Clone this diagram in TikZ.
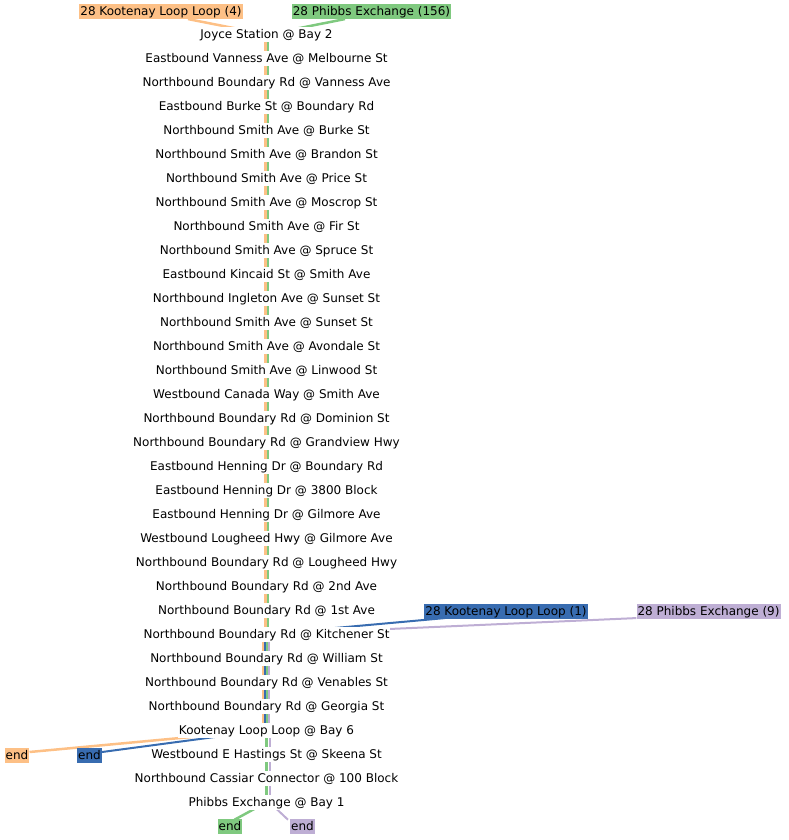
\documentclass[tikz,border=0pt]{standalone}
\usepackage{fontspec}
\setmainfont{DejaVu Sans}
\pgfdeclarelayer{bg}
\pgfsetlayers{bg,main}
\definecolor{corange}{HTML}{FDC086}
\definecolor{cgreen}{HTML}{7FC97F}
\definecolor{cblue}{HTML}{386CB0}
\definecolor{cpurple}{HTML}{BEAED4}
\begin{document}
\begin{tikzpicture}[x=1pt,y=-1pt,
  stop/.style={fill=white,inner xsep=0.5pt,inner ysep=3.2pt,text height=8.75pt,text depth=0pt,font=\fontsize{12}{14}\selectfont},
  lab/.style={inner xsep=1pt,inner ysep=3.2pt,text height=8.75pt,text depth=0pt,font=\fontsize{12}{14}\selectfont},
  ro/.style={draw=corange,line width=2.5pt},
  rg/.style={draw=cgreen,line width=2.5pt},
  rb/.style={draw=cblue,line width=2pt},
  rp/.style={draw=cpurple,line width=2pt}]
\useasboundingbox (0,0) rectangle (788,840);
\foreach \t [count=\i from 0] in {
Joyce Station @ Bay 2,
Eastbound Vanness Ave @ Melbourne St,
Northbound Boundary Rd @ Vanness Ave,
Eastbound Burke St @ Boundary Rd,
Northbound Smith Ave @ Burke St,
Northbound Smith Ave @ Brandon St,
Northbound Smith Ave @ Price St,
Northbound Smith Ave @ Moscrop St,
Northbound Smith Ave @ Fir St,
Northbound Smith Ave @ Spruce St,
Eastbound Kincaid St @ Smith Ave,
Northbound Ingleton Ave @ Sunset St,
Northbound Smith Ave @ Sunset St,
Northbound Smith Ave @ Avondale St,
Northbound Smith Ave @ Linwood St,
Westbound Canada Way @ Smith Ave,
Northbound Boundary Rd @ Dominion St,
Northbound Boundary Rd @ Grandview Hwy,
Eastbound Henning Dr @ Boundary Rd,
Eastbound Henning Dr @ 3800 Block,
Eastbound Henning Dr @ Gilmore Ave,
Westbound Lougheed Hwy @ Gilmore Ave,
Northbound Boundary Rd @ Lougheed Hwy,
Northbound Boundary Rd @ 2nd Ave,
Northbound Boundary Rd @ 1st Ave,
Northbound Boundary Rd @ Kitchener St,
Northbound Boundary Rd @ William St,
Northbound Boundary Rd @ Venables St,
Northbound Boundary Rd @ Georgia St,
Kootenay Loop Loop @ Bay 6,
Westbound E Hastings St @ Skeena St,
Northbound Cassiar Connector @ 100 Block,
Phibbs Exchange @ Bay 1}
  \node[stop] (s\i) at (266.5,{34.3+24*\i}) {\t};

% labels
\node[lab,fill=corange] (lo) at (161,11.3) {28 Kootenay Loop Loop (4)};
\node[lab,fill=cgreen] (lg) at (371.5,11.3) {28 Phibbs Exchange (156)};
\node[lab,fill=cblue] (lb) at (506,611.3) {28 Kootenay Loop Loop (1)};
\node[lab,fill=cpurple] (lp) at (708.5,611.3) {28 Phibbs Exchange (9)};
\node[lab,fill=corange] (eo) at (17,755.5) {end};
\node[lab,fill=cblue] (eb) at (89.5,755.5) {end};
\node[lab,fill=cgreen] (eg) at (230,826.5) {end};
\node[lab,fill=cpurple] (ep) at (302.5,826.5) {end};

\begin{pgfonlayer}{bg}
% top section: orange + green
\foreach \i [evaluate=\i as \j using int(\i+1)] in {0,...,24} {
  \draw[ro] ([xshift=-1pt]s\i.center) -- ([xshift=-1pt]s\j.center);
  \draw[rg] ([xshift=1.5pt]s\i.center) -- ([xshift=1.5pt]s\j.center);
}
% Kitchener to Kootenay Loop: four routes
\foreach \i [evaluate=\i as \j using int(\i+1)] in {25,...,28} {
  \draw[ro,line width=2pt] ([xshift=-3.5pt]s\i.center) -- ([xshift=-3.5pt]s\j.center);
  \draw[rb] ([xshift=-1.5pt]s\i.center) -- ([xshift=-1.5pt]s\j.center);
  \draw[rg,line width=2pt] ([xshift=0.5pt]s\i.center) -- ([xshift=0.5pt]s\j.center);
  \draw[rp] ([xshift=2.5pt]s\i.center) -- ([xshift=2.5pt]s\j.center);
}
% Kootenay Loop to Phibbs: green + purple
\foreach \i [evaluate=\i as \j using int(\i+1)] in {29,...,31} {
  \draw[rg] ([xshift=0pt]s\i.center) -- ([xshift=0pt]s\j.center);
  \draw[rp] ([xshift=3pt]s\i.center) -- ([xshift=3pt]s\j.center);
}
% start connectors
\draw[ro] ([xshift=27pt]lo.south) -- ([xshift=-1pt]s0.center);
\draw[rg] ([xshift=-26.5pt]lg.south) -- ([xshift=1.5pt]s0.center);
\draw[rb] ([xshift=-61pt,yshift=1pt]lb.south) -- ([xshift=-1.5pt]s25.center);
\draw[rp] ([yshift=1pt]lp.south west) -- ([xshift=2.5pt]s25.center);
% end connectors
\draw[ro] ([yshift=3.5pt]eo.east) -- ([xshift=-3.5pt]s29.center);
\draw[rb] ([yshift=3.5pt]eb.east) -- ([xshift=-1.5pt]s29.center);
\draw[rg] ([xshift=-8pt,yshift=-1pt]eg.north east) -- ([xshift=0pt]s32.center);
\draw[rp] ([xshift=-2pt,yshift=-1pt]ep.north west) -- ([xshift=3pt]s32.center);
\end{pgfonlayer}
\end{tikzpicture}
\end{document}
